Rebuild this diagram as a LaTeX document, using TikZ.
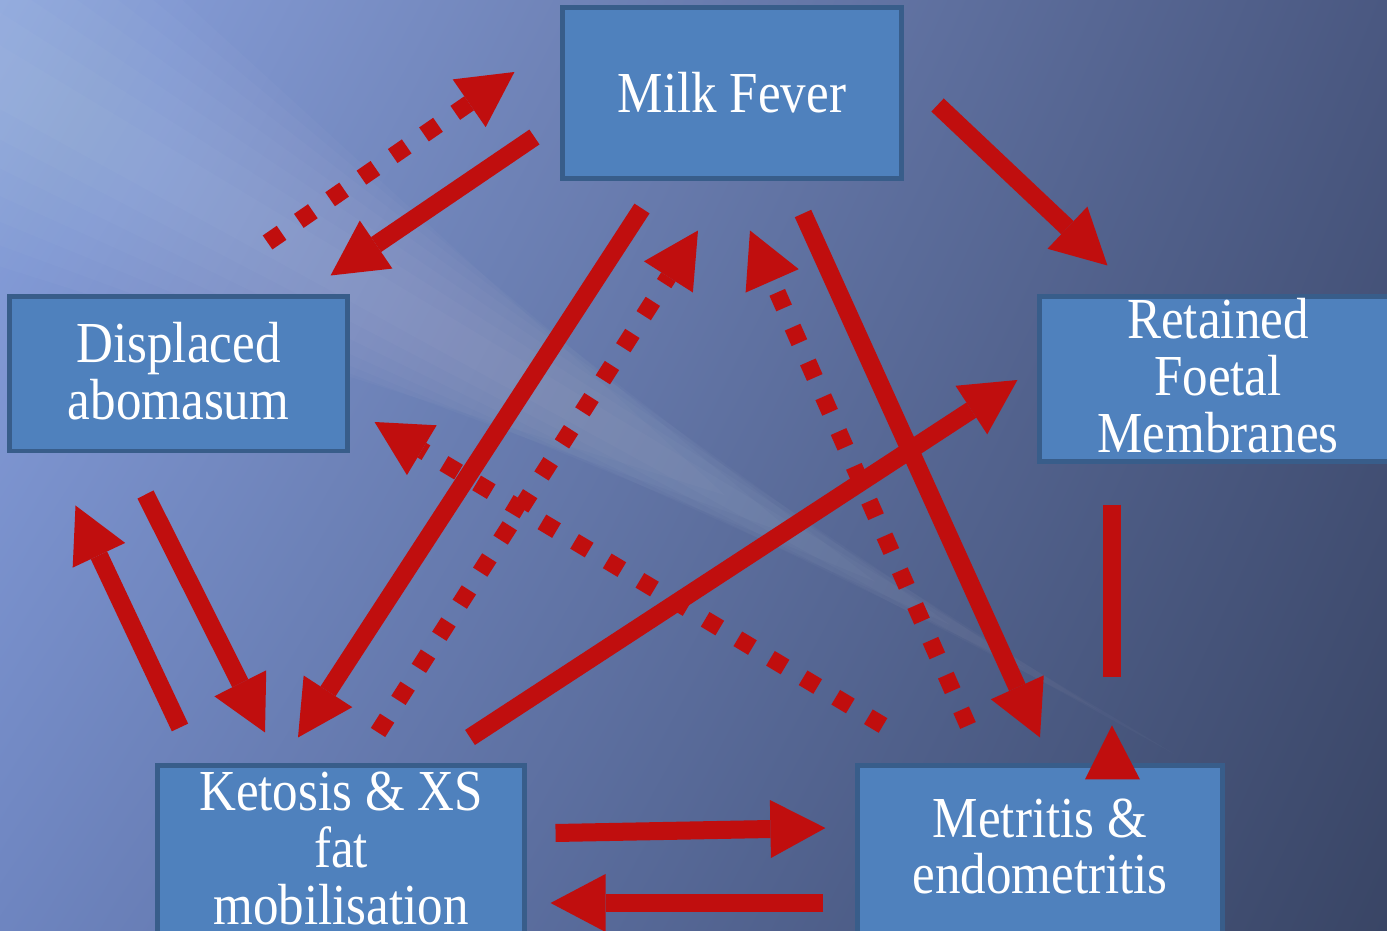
\documentclass[tikz,border=0pt]{standalone}
\usepackage{fontspec}
\setmainfont{Liberation Serif}[FakeStretch=0.88]
\usetikzlibrary{arrows.meta, shadings}
\definecolor{cell}{HTML}{4F81BD}
\definecolor{rim}{HTML}{385D8A}
\definecolor{link}{HTML}{C00E0E}
\definecolor{skyTL}{HTML}{8AA2DE}
\definecolor{skyTR}{HTML}{4A5881}
\definecolor{skyBL}{HTML}{6E85C0}
\definecolor{skyBR}{HTML}{394565}

\begin{document}
\begin{tikzpicture}[
    x=0.01cm, y=-0.01cm,
    >={Triangle[length=5.5mm, width=5.8mm, line width=0pt]},
    disease/.style={rectangle, draw=rim, fill=cell, line width=1.4pt, inner sep=0pt,
                    text=white, align=center, font=\fontsize{16.5}{16.2}\selectfont},
    cause/.style={->, link, line width=1.8mm},
    maybe/.style={->, link, line width=1.7mm, dash pattern=on 1.7mm off 2.1mm},
]

% background
\useasboundingbox (0,0) rectangle (1387,931);
\clip (0,0) rectangle (1387,931);
\shade[upper left=skyTL, upper right=skyTR, lower left=skyBL, lower right=skyBR]
    (0,0) rectangle (1387,931);
% light streak, tapered towards the lower right
\foreach \w in {30,60,90,120,150,180,210} {
    \fill[white, opacity=0.022]
        ({-100+0.5*\w},{20-0.866*\w}) -- ({1250-2.5*\w},{20+0.576*(1350-2.5*\w)})
        -- ({-100-0.5*\w},{20+0.866*\w}) -- cycle;
}

% boxes
\node[disease, minimum width=3.38cm, minimum height=1.70cm] (fever) at (732,93) {Milk Fever};
\node[disease, minimum width=3.37cm, minimum height=1.54cm, text depth=2pt] (abom) at (178.5,374)
    {Displaced\\abomasum};
\node[disease, minimum width=3.56cm, minimum height=1.64cm, text depth=2pt] (rfm) at (1218,379)
    {Retained\\Foetal\\Membranes};
\node[disease, minimum width=3.66cm, minimum height=1.78cm, text depth=4pt] (ketosis) at (341,855)
    {Ketosis \& XS\\fat\\mobilisation};
\node[disease, minimum width=3.64cm, minimum height=1.78cm, text depth=5pt] (metritis) at (1040,855)
    {Metritis \&\\endometritis};

% solid arrows
\draw[cause] ([shift={(-26,44)}]fever.west) -- ([shift={(-19,-19)}]abom.north east);
\draw[cause] ([shift={(34,12)}]fever.east) -- ([shift={(70,-29)}]rfm.north west);
\draw[cause] ([shift={(-90,28)}]fever.south) -- ([shift={(-43,-26)}]ketosis.north);
\draw[cause] ([shift={(71,33)}]fever.south) -- ([shift={(0,-26)}]metritis.north);
\draw[cause] ([shift={(129,-26)}]ketosis.north) -- ([shift={(-20,1)}]rfm.west);
\draw[cause] ([shift={(-33,41)}]abom.south) -- ([shift={(-76,-31)}]ketosis.north);
\draw[cause] ([shift={(-161,-36)}]ketosis.north) -- ([shift={(-103,52)}]abom.south);
\draw[cause] ([shift={(29,-22)}]ketosis.east) -- ([shift={(-30,-27)}]metritis.west);
\draw[cause] ([shift={(-32,48)}]metritis.west) -- ([shift={(24,48)}]ketosis.east);

% broken link between rfm and metritis
\draw[link, line width=1.8mm] ([shift={(-106,41)}]rfm.south) -- ([shift={(72,-86)}]metritis.north);
\fill[link] ([shift={(72,-38)}]metritis.north) -- ([shift={(45,16)}]metritis.north)
    -- ([shift={(100,16)}]metritis.north) -- cycle;

% dotted arrows
\draw[maybe] ([shift={(-82,-52)}]abom.north east) -- ([shift={(-46,-21)}]fever.west);
\draw[maybe] ([shift={(37,-31)}]ketosis.north) -- ([shift={(-34,50)}]fever.south);
\draw[maybe] ([shift={(-72,-38)}]metritis.north) -- ([shift={(18,50)}]fever.south);
\draw[maybe] ([shift={(-157,-38)}]metritis.north) -- ([shift={(25,48)}]abom.east);

\end{tikzpicture}
\end{document}
